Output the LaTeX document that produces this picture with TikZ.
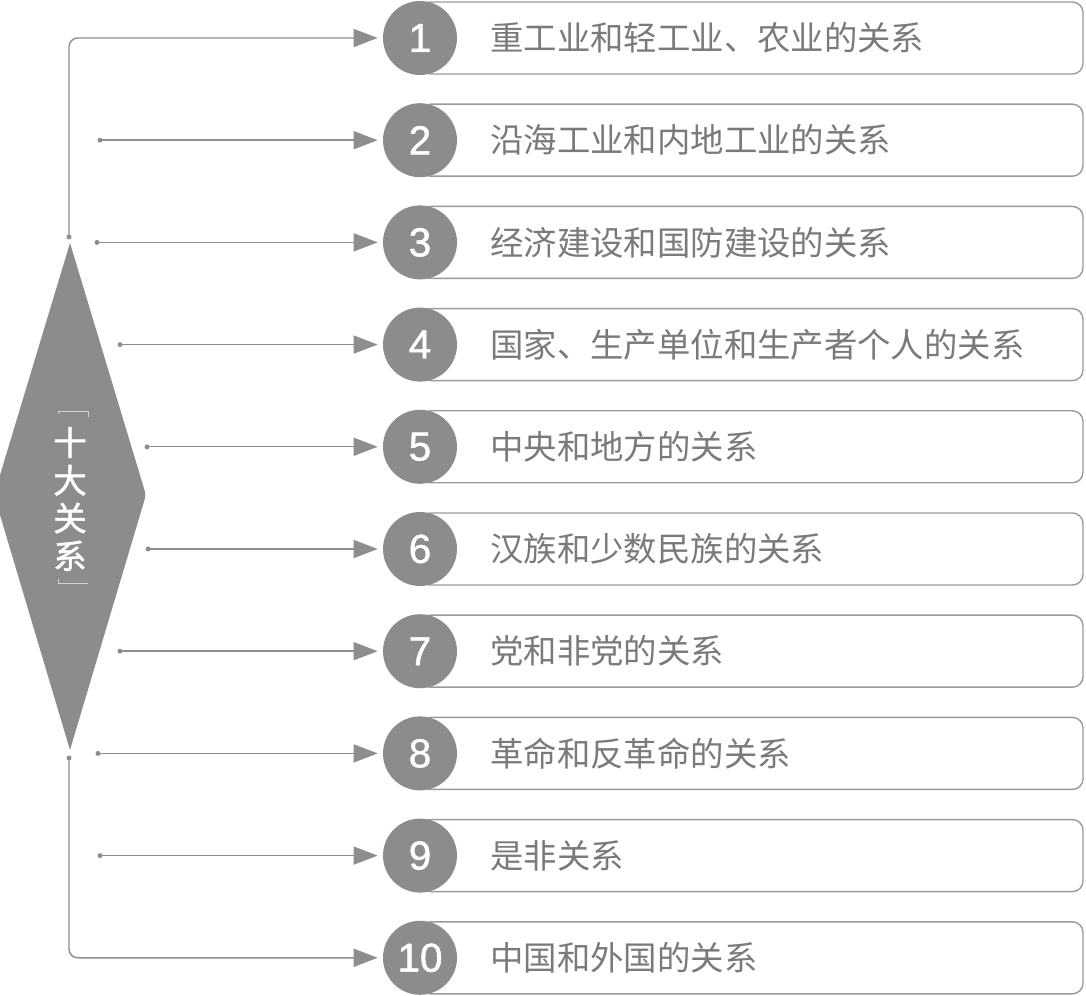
\documentclass[tikz,border=0pt]{standalone}
\usepackage{fontspec}
\setmainfont{Liberation Sans}
\newfontfamily\numf[FakeBold=1.2]{Liberation Sans}
\newfontfamily\cjk{Noto Sans CJK SC}
\newfontfamily\cjkb[FakeBold=1.5]{Noto Sans CJK SC}
\usetikzlibrary{arrows.meta}
\definecolor{dgray}{HTML}{8C8C8C}
\definecolor{lgray}{HTML}{8E8E8E}
\definecolor{bgray}{HTML}{9A9A9A}
\definecolor{tgray}{HTML}{7A7A7A}
\begin{document}
\begin{tikzpicture}[x=0.02cm,y=-0.02cm,
  conn/.style={draw=lgray,line width=0.8pt,-{Triangle[length=0.48cm,width=0.36cm]},shorten >=0.1cm},
  dotst/.style={circle,fill=lgray,inner sep=0pt,minimum size=0.1cm},
  numc/.style={circle,fill=dgray,inner sep=0pt,minimum size=1.48cm,text=white,font=\numf\fontsize{23}{23}\selectfont},
  itembox/.style={draw=bgray,line width=0.8pt,fill=white,rounded corners=6pt},
  itemtext/.style={anchor=west,text=tgray,font=\cjk\fontsize{19}{19}\selectfont,inner sep=0pt},
  brk/.style={white,line width=0.35pt,opacity=0.6}
]
\useasboundingbox (0,0) rectangle (1086,996);
\fill[white] (0,0) rectangle (1086,996);
% diamond
\begin{scope}
\clip (0,0) rectangle (1086,996);
\fill[dgray] (70,243) -- (143.1,485.4) .. controls (146,495) .. (143.1,504.6)
  -- (70,750) -- (-3.1,504.6) .. controls (-6,495) .. (-3.1,485.4) -- cycle;
\end{scope}
\node[text=white,font=\cjkb\fontsize{19}{21.5}\selectfont,align=center,inner sep=0pt] (d) at (70,499) {十\\大\\关\\系};
\draw[brk] (58,414) -- (58,411) -- (88,411) -- (88,417);
\draw[brk] (58,579) -- (58,583) -- (88,583);
\coordinate (dtop) at (69,237);
\coordinate (dbot) at (69,758);
\node[dotst] at (dtop) {};
\node[dotst] at (dbot) {};
% rows
\foreach \i/\sx/\txt in {
 1/69/重工业和轻工业、农业的关系,
 2/100/沿海工业和内地工业的关系,
 3/97/经济建设和国防建设的关系,
 4/120/国家、生产单位和生产者个人的关系,
 5/147/中央和地方的关系,
 6/148/汉族和少数民族的关系,
 7/120/党和非党的关系,
 8/98/革命和反革命的关系,
 9/100/是非关系,
 10/69/中国和外国的关系}{
  \pgfmathsetmacro{\yy}{38+(\i-1)*102.2}
  \draw[itembox] (420,\yy-36) rectangle (1083,\yy+36);
  \node[numc] (c\i) at (420,\yy) {\i};
  \node[itemtext] (t\i) at (490,\yy) {\txt};
  \coordinate (s\i) at (\sx,\yy);
}
\foreach \i in {2,...,9}{
  \node[dotst] at (s\i) {};
  \draw[conn] (s\i) -- (c\i.west);
}
\draw[conn,rounded corners=5pt] (dtop) |- (c1.west);
\draw[conn,rounded corners=5pt] (dbot) |- (c10.west);
\end{tikzpicture}
\end{document}
